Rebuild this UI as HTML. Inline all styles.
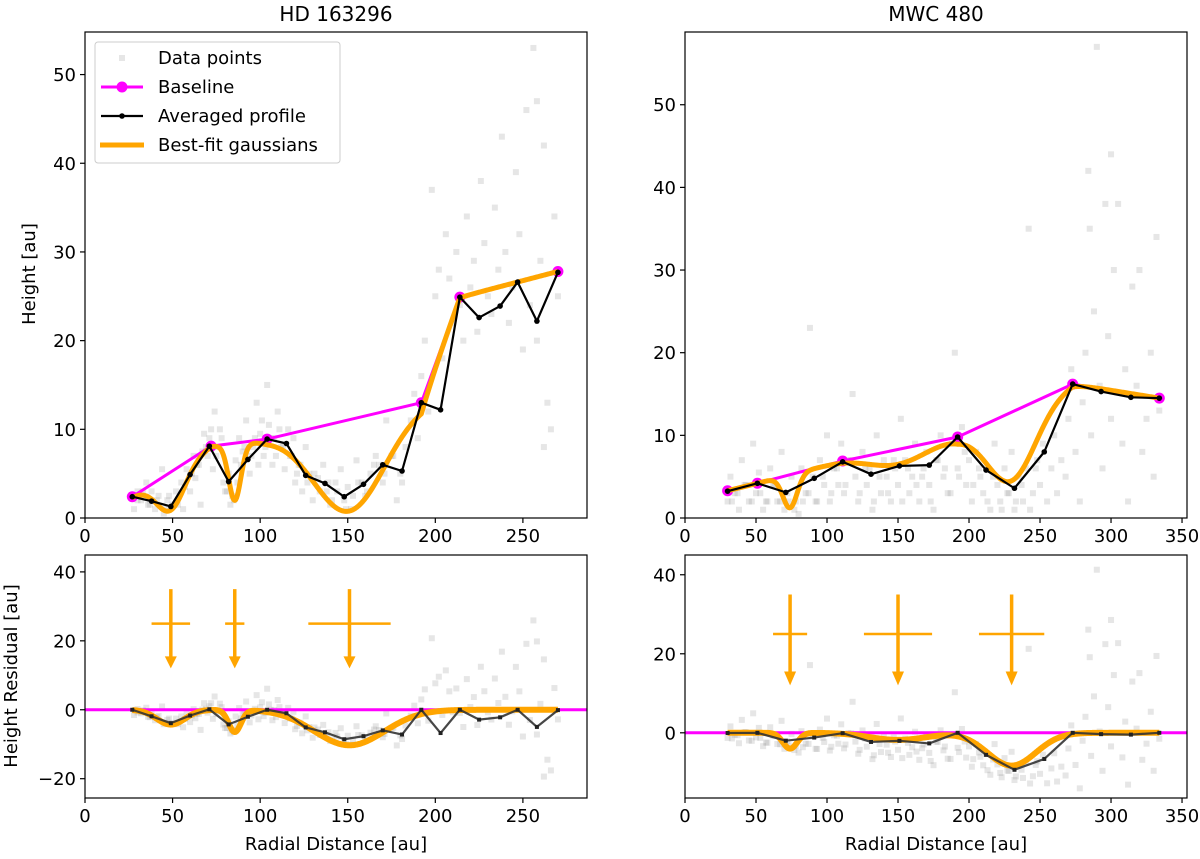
<!DOCTYPE html>
<html><head><meta charset="utf-8"><style>
html,body{margin:0;padding:0;background:#fff;}
svg{display:block;font-family:"DejaVu Sans","Liberation Sans",sans-serif;}
</style></head><body>
<svg id="fig" width="1200" height="859" viewBox="0 0 1200 859" xmlns="http://www.w3.org/2000/svg"></svg>
<script>
// ===== HD 163296 data =====
const hdBaseX = [27, 72, 104, 192, 214, 270];
const hdBaseY = [2.4, 8.1, 8.9, 13.0, 24.9, 27.8];
const hdAvgX = [27,38,49,60,71,82,93,104,115,126,137,148,159,170,181,192,203,214,225,237,247,258,270];
const hdAvgY = [2.4,1.9,1.3,4.9,8.1,4.1,6.6,8.9,8.4,4.8,3.9,2.4,3.8,6.0,5.3,13.0,12.2,24.9,22.6,23.9,26.6,22.2,27.7];
const hdGaussC = [49, 85.5, 151];
const hdGaussDepth = [4.3, 6.4, 10.3];
const hdGaussSigma = [8, 3.5, 20];
const hdArrowHalfW = [11, 5.5, 23.5];
const hdPtsX = [28,30,32,35,36,38,40,42,44,45,47,50,52,55,56,58,60,62,63,65,66,68,70,72,73,74,76,78,80,82,83,85,86,88,90,92,94,96,98,100,102,104,105,107,108,110,112,114,116,118,120,122,124,126,128,130,133,136,138,140,143,146,148,150,152,155,158,160,163,166,168,170,172,175,178,180,183,186,188,190,192,194,196,198,200,202,204,206,208,210,212,214,216,218,220,222,224,226,228,230,232,234,236,238,240,242,244,246,248,250,252,254,256,258,260,262,264,266,268,270,258,262];
const hdPtsY = [1,3,2,4,1.5,3,1,2.5,5.5,0.5,2,1.5,3,4,1,5.5,3,7,4.5,6,1.5,9.5,7,10,5.5,12,8,9,3,5,1.5,2,6.5,9,7.5,11,5,8,13,9.5,7,15,10.5,6,9,12,8,5.5,10,7,4,6,3,8,5,2,4.5,6,3,1.5,4,5.5,2,3.5,1,6.5,4,2.5,5,7,6,4,11,7,2,5,8,11,14,9,16,20,12,37,25,28,18,32,27,22,30,24,20,34,26,29,21,38,31,25,23,35,28,43,30,22,26,39,32,19,46,24,53,47,29,42,13,10,34,25,20,8];
const hdPts2X = [30,33,37,41,46,48,53,57,61,64,67,69,71,75,77,79,81,84,87,89,91,95,97,99,101,103,106,109,111,113,117,119,121,123,127,131,134,139,141,144,149,153,156,161,165,171,176,181];
const hdPts2Y = [2,3,1.5,2,1,2.5,1.5,3.5,5,6,7.5,8,9,7,10,4,3,2.5,4,6,8,7,9,6,11,8,9,7,10,8,7,9,5,6,4,5,3,4,2,3,1,2.5,4,3,6,5,7,4];
// ===== MWC 480 data =====
const mwBaseX = [30, 51, 111, 192, 273, 334];
const mwBaseY = [3.3, 4.2, 6.9, 9.8, 16.2, 14.5];
const mwAvgX = [30,51,71,91,111,131,151,172,192,212,232,253,273,293,314,334];
const mwAvgY = [3.25,4.2,3.1,4.8,6.8,5.3,6.3,6.4,9.8,5.8,3.6,8.0,16.2,15.3,14.6,14.5];
const mwGaussC = [74, 150, 230];
const mwGaussDepth = [4.0, 1.8, 8.3];
const mwGaussSigma = [5, 20, 17];
const mwArrowHalfW = [12, 24, 23];
const mwPtsX = [30,32,35,38,40,42,45,48,50,52,55,57,60,62,65,68,70,72,75,78,80,82,85,88,90,92,95,98,100,102,105,108,110,112,115,118,120,122,125,128,130,132,135,138,140,142,145,148,150,152,155,158,160,162,165,168,170,172,175,178,180,182,185,188,190,192,195,198,200,202,205,208,210,212,215,218,220,222,225,228,230,232,235,238,240,242,245,248,250,252,255,258,260,262,265,268,270,272,275,278,280,282,284,286,288,290,292,294,296,298,300,302,305,308,310,312,315,318,320,322,325,328,330,332,334,285,300];
const mwPtsY = [2,5,3,1,7,4,2,9,3,5.5,1,2,6,4,2,8,1,3,5,2,0.5,6,3,23,5,2,7,4,10,2,6,4,9,3,7,15,5,2,8,4,6,1,10,3,7,5,2,6,4,12,7,3,5,9,2,6,8,4,1,7,10,5,3,9,20,6,11,4,7,2,8,5,3,6,1,9,4,2,6,3,8,1,5,2,6,35,3,7,4,9,2,6,10,3,7,5,12,18,8,2,14,20,42,10,25,57,16,6,38,22,12,30,38,9,18,2,28,16,30,8,12,20,5,34,13,35,44];
const mwPts2X = [33,37,43,47,53,58,63,67,73,77,83,87,93,97,103,107,113,117,123,127,133,137,143,147,153,157,163,167,173,177,183,187,193,197,203,207,213,217,223,227,233,237,243,247];
const mwPts2Y = [2,3,4,2,3,2,4,2,2,1,2,3,2,5,3,6,4,7,3,6,2,5,3,7,2,6,4,5,2,7,6,3,5,8,4,6,2,5,1,3,2,4,1,6];
// axis ticks
const hdXTicks = [0,50,100,150,200,250];
const mwXTicks = [0,50,100,150,200,250,300,350];
const topYTicks = [0,10,20,30,40,50];
const hdResTicks = [-20,0,20,40];
const mwResTicks = [0,20,40];

const NS = "http://www.w3.org/2000/svg";
const svgRoot = document.getElementById('fig');
function mk(tag, attrs, par){const e=document.createElementNS(NS,tag);for(const k in attrs)e.setAttribute(k,attrs[k]);(par||svgRoot).appendChild(e);return e;}
function interp(xs, ys, x){if(x<=xs[0])return ys[0];for(let i=1;i<xs.length;i++){if(x<=xs[i]){const t=(x-xs[i-1])/(xs[i]-xs[i-1]);return ys[i-1]+t*(ys[i]-ys[i-1]);}}return ys[ys.length-1];}
function gsum(c,d,s,x){let v=0;for(let i=0;i<c.length;i++){const dx=x-c[i];v+=d[i]*Math.exp(-(dx*dx)/(2*s[i]*s[i]));}return v;}

function makeAxes(nm, L, R, T, B, xmin, xmax, ymin, ymax){
  const sx = v => L + (v-xmin)/(xmax-xmin)*(R-L);
  const sy = v => B - (v-ymin)/(ymax-ymin)*(B-T);
  const g = mk('g',{});
  
  
  const cid = 'clip-'+nm;
  const cp = mk('clipPath',{id:cid},g); mk('rect',{x:L,y:T,width:R-L,height:B-T},cp);
  const plot = mk('g',{'clip-path':'url(#'+cid+')'},g);
  
  
  return {L,R,T,B,sx,sy,g,plot};
}
function drawFrame(ax, xticks, yticks, prefix){
  const f = mk('rect',{x:ax.L,y:ax.T,width:ax.R-ax.L,height:ax.B-ax.T,fill:'none',stroke:'#000','stroke-width':1.2},ax.g);
  
  
  xticks.forEach(v=>{const x=ax.sx(v);mk('line',{x1:x,x2:x,y1:ax.B,y2:ax.B+5,stroke:'#000','stroke-width':1.2},ax.g);
    const t=mk('text',{x:x,y:ax.B+24,'text-anchor':'middle','font-size':18},ax.g);t.textContent=v;
    
    });
  yticks.forEach(v=>{const y=ax.sy(v);mk('line',{x1:ax.L-5,x2:ax.L,y1:y,y2:y,stroke:'#000','stroke-width':1.2},ax.g);
    const t=mk('text',{x:ax.L-9,y:y+6.5,'text-anchor':'end','font-size':18},ax.g);t.textContent=(v<0?'\u2212'+(-v):v);
    
    });
}
function scatter(ax, xs, ys, fn, prefix){
  const n=Math.min(xs.length, ys.length);
  for(let i=0;i<n;i++){const y=fn(xs[i],ys[i]);
    const r=mk('rect',{x:ax.sx(xs[i])-3,y:ax.sy(y)-3,width:6,height:6,fill:'#808080','fill-opacity':0.2},ax.plot);
    
    }
}
function polyline(ax, pts, attrs, nm){
  const p=mk('polyline',Object.assign({points:pts.map(p=>ax.sx(p[0]).toFixed(2)+','+ax.sy(p[1]).toFixed(2)).join(' '),fill:'none','stroke-linejoin':'round','stroke-linecap':'butt'},attrs),ax.plot);
  
  
  return p;
}
function topPanel(ax, bx, by, axs, ays, gc, gd, gs, px, py, prefix){
  scatter(ax, px, py, (x,y)=>y, prefix);
  polyline(ax, bx.map((x,i)=>[x,by[i]]), {stroke:'#ff00ff','stroke-width':3}, prefix+'-baseline');
  bx.forEach((x,i)=>{const c=mk('circle',{cx:ax.sx(x),cy:ax.sy(by[i]),r:5.5,fill:'#ff00ff'},ax.plot);
    
    });
  const fit=[];for(let x=bx[0];x<=bx[bx.length-1]+0.001;x+=0.5)fit.push([x,interp(bx,by,x)-gsum(gc,gd,gs,x)]);
  polyline(ax, fit, {stroke:'#ffa500','stroke-width':5}, prefix+'-gaussian-fit');
  polyline(ax, axs.map((x,i)=>[x,ays[i]]), {stroke:'#000','stroke-width':2.2}, prefix+'-averaged-profile');
  axs.forEach((x,i)=>{const c=mk('circle',{cx:ax.sx(x),cy:ax.sy(ays[i]),r:2.8,fill:'#000'},ax.plot);
    
    });
}
function resPanel(ax, bx, by, axs, ays, gc, gd, gs, hw, px, py, prefix){
  scatter(ax, px, py, (x,y)=>y-interp(bx,by,x), prefix+'-residual');
  const z=mk('line',{x1:ax.L,x2:ax.R,y1:ax.sy(0),y2:ax.sy(0),stroke:'#ff00ff','stroke-width':3},ax.plot);
  
  
  const fit=[];for(let x=bx[0];x<=bx[bx.length-1]+0.001;x+=0.5)fit.push([x,-gsum(gc,gd,gs,x)]);
  polyline(ax, fit, {stroke:'#ffa500','stroke-width':6}, prefix+'-residual-fit');
  polyline(ax, axs.map((x,i)=>[x,ays[i]-interp(bx,by,x)]), {stroke:'#333','stroke-width':2.2,'stroke-opacity':0.9}, prefix+'-residual-profile');
  axs.forEach((x,i)=>{const r=mk('rect',{x:ax.sx(x)-2,y:ax.sy(ays[i]-interp(bx,by,x))-2,width:4,height:4,fill:'#222'},ax.plot);
    
    });
  gc.forEach((c,i)=>{const x=ax.sx(c);const g=mk('g',{},ax.plot);
    
    
    mk('line',{x1:ax.sx(c-hw[i]),x2:ax.sx(c+hw[i]),y1:ax.sy(25),y2:ax.sy(25),stroke:'#ffa500','stroke-width':2.5},g);
    mk('line',{x1:x,x2:x,y1:ax.sy(35),y2:ax.sy(15)+1,stroke:'#ffa500','stroke-width':3.5},g);
    const yt=ax.sy(12), yh=ax.sy(15.5);
    mk('polygon',{points:(x-6)+','+yh+' '+(x+6)+','+yh+' '+x+','+yt,fill:'#ffa500'},g);});
}

// Axes
const hdTop = makeAxes('hd163296-height-axes', 85, 587, 32, 518, 0, 286.6, 0, 54.8);
const mwTop = makeAxes('mwc480-height-axes', 685, 1187, 32, 518, 0, 353.5, 0, 58.8);
const hdRes = makeAxes('hd163296-residual-axes', 85, 587, 555, 798, 0, 286.6, -25.6, 44.9);
const mwRes = makeAxes('mwc480-residual-axes', 685, 1187, 555, 798, 0, 353.5, -16.5, 45);

const hdAllX = hdPtsX.concat(hdPts2X), hdAllY = hdPtsY.concat(hdPts2Y);
const mwAllX = mwPtsX.concat(mwPts2X), mwAllY = mwPtsY.concat(mwPts2Y);

topPanel(hdTop, hdBaseX, hdBaseY, hdAvgX, hdAvgY, hdGaussC, hdGaussDepth, hdGaussSigma, hdAllX, hdAllY, 'hd');
topPanel(mwTop, mwBaseX, mwBaseY, mwAvgX, mwAvgY, mwGaussC, mwGaussDepth, mwGaussSigma, mwAllX, mwAllY, 'mw');
resPanel(hdRes, hdBaseX, hdBaseY, hdAvgX, hdAvgY, hdGaussC, hdGaussDepth, hdGaussSigma, hdArrowHalfW, hdAllX, hdAllY, 'hd');
resPanel(mwRes, mwBaseX, mwBaseY, mwAvgX, mwAvgY, mwGaussC, mwGaussDepth, mwGaussSigma, mwArrowHalfW, mwAllX, mwAllY, 'mw');

drawFrame(hdTop, hdXTicks, topYTicks, 'hd-top');
drawFrame(mwTop, mwXTicks, topYTicks, 'mw-top');
drawFrame(hdRes, hdXTicks, hdResTicks, 'hd-res');
drawFrame(mwRes, mwXTicks, mwResTicks, 'mw-res');

function addLabel(txt, attrs, nm){const t=mk('text',attrs);t.textContent=txt;
  
  }
addLabel('HD 163296',{x:336,y:21,'text-anchor':'middle','font-size':20},'title-hd163296');
addLabel('MWC 480',{x:936,y:21,'text-anchor':'middle','font-size':20},'title-mwc480');
addLabel('Height [au]',{x:0,y:0,'text-anchor':'middle','font-size':18,transform:'translate(35,274) rotate(-90)'},'y-axis-title-height');
addLabel('Height Residual [au]',{x:0,y:0,'text-anchor':'middle','font-size':18,transform:'translate(17,676) rotate(-90)'},'y-axis-title-residual');
addLabel('Radial Distance [au]',{x:336,y:850,'text-anchor':'middle','font-size':18},'x-axis-title-left');
addLabel('Radial Distance [au]',{x:936,y:850,'text-anchor':'middle','font-size':18},'x-axis-title-right');

// Legend
const lg = mk('g',{});


mk('rect',{x:95,y:42,width:245,height:121,rx:3,fill:'#fff','fill-opacity':0.8,stroke:'#ccc','stroke-width':1},lg);
const legendEntries = [
  ['Data points', 58, 'legend-entry-data-points'],
  ['Baseline', 87, 'legend-entry-baseline'],
  ['Averaged profile', 116, 'legend-entry-averaged-profile'],
  ['Best-fit gaussians', 145, 'legend-entry-best-fit']
];
legendEntries.forEach(e=>{const t=mk('text',{x:158,y:e[1]+6,'font-size':18},lg);t.textContent=e[0];
  
  });
mk('rect',{x:119,y:55,width:6,height:6,fill:'#808080','fill-opacity':0.2},lg);
mk('line',{x1:101,x2:143,y1:87,y2:87,stroke:'#ff00ff','stroke-width':3},lg);
mk('circle',{cx:122,cy:87,r:5.5,fill:'#ff00ff'},lg);
mk('line',{x1:101,x2:143,y1:116,y2:116,stroke:'#000','stroke-width':2.2},lg);
mk('circle',{cx:122,cy:116,r:2.8,fill:'#000'},lg);
mk('line',{x1:100,x2:144,y1:145,y2:145,stroke:'#ffa500','stroke-width':5},lg);
</script>
</body></html>
